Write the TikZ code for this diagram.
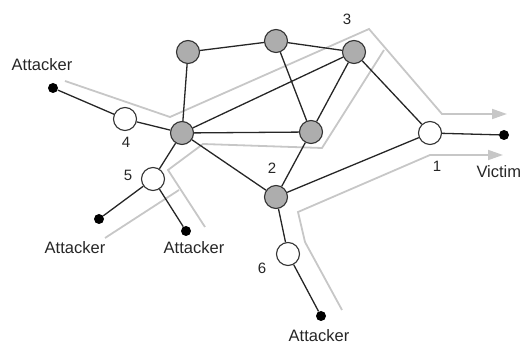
\documentclass[tikz,border=0pt]{standalone}
\usepackage{fontspec}
\setmainfont{Liberation Sans}
\usetikzlibrary{arrows.meta}

\begin{document}
\begin{tikzpicture}
[x=1pt,y=-1pt,
 router/.style={circle,draw=black!80,line width=1.1pt,fill=black!32,minimum size=23pt,inner sep=0pt},
 hop/.style={circle,draw=black!80,line width=1.1pt,fill=white,minimum size=23pt,inner sep=0pt},
 host/.style={circle,fill=black,minimum size=10pt,inner sep=0pt},
 lbl/.style={font=\fontsize{16.5}{18}\selectfont,text=black!85},
 num/.style={font=\fontsize{15}{16}\selectfont,text=black!85},
 trace/.style={draw=black!22,line width=1.8pt,line join=miter}]
\useasboundingbox (0,0) rectangle (523,347);

% attack paths
\draw[trace,-{Triangle[length=15pt,width=10pt]}] (65,81) -- (170,117) -- (369,29) -- (442,114) -- (507,114);
\draw[trace] (205,227) -- (168,170) -- (203,144) -- (322,148) -- (384,50);
\draw[trace] (105,238) -- (179,190);
\draw[trace,-{Triangle[length=15pt,width=10pt]}] (342,310) -- (305,242) -- (298,212) -- (430,155) -- (503,155);

\node[router] (v1) at (182,133) {};
\node[router] (v2) at (188,52) {};
\node[router] (v3) at (276,41) {};
\node[router] (v4) at (354,52) {};
\node[router] (v5) at (311,132) {};
\node[router] (v6) at (276,197) {};
\node (v16) [num] at (272,168) {2};
\node (v17) [num] at (347,19) {3};

\node[hop] (v7) at (430,133) {};
\node (v18) [num] at (437,166) {1};
\node[hop] (v8) at (125,119) {};
\node (v19) [num] at (126,142) {4};
\node[hop] (v9) at (153,179) {};
\node (v20) [num] at (128,175) {5};
\node[hop] (v10) at (288,254) {};
\node (v21) [num] at (262,268) {6};

\node[host] (v11) at (53,88) {};
\node (v22) [lbl] at (42,65) {Attacker};
\node[host] (v12) at (99,219) {};
\node (v23) [lbl] at (75,248) {Attacker};
\node[host] (v13) at (186,231) {};
\node (v24) [lbl] at (194,248) {Attacker};
\node[host] (v14) at (321,316) {};
\node (v25) [lbl] at (319,336) {Attacker};
\node[host] (v15) at (504,135) {};
\node (v26) [lbl,anchor=west] at (473,172) {Victim};

\foreach \from/\to in {v11/v8,v8/v1,v1/v2,v1/v4,v1/v5,v1/v6,v1/v9,v9/v12,v9/v13,v2/v3,v3/v4,v3/v5,v4/v5,v4/v7,v5/v6,v6/v7,v6/v10,v10/v14,v7/v15}
\draw[line width=1.3pt,black!85] (\from) -- (\to);
\end{tikzpicture}
\end{document}
